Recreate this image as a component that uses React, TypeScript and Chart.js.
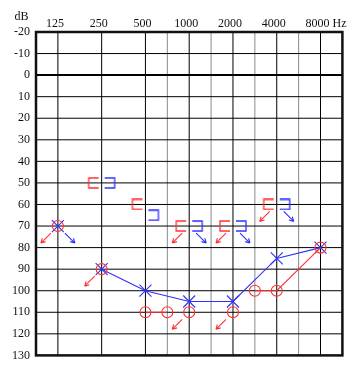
import React, { useEffect, useRef } from "react";
import { Chart, registerables } from "chart.js";

Chart.register(...registerables);

// ---- axis data ----
const freqTickLabels = ["125", "250", "500", "1000", "2000", "4000", "8000"];
const majorFreqs = [125, 250, 500, 1000, 2000, 4000, 8000];
const minorFreqs = [750, 1500, 3000, 6000];
const dbTicks = [-20, -10, 0, 10, 20, 30, 40, 50, 60, 70, 80, 90, 100, 110, 120, 130];
const freqUnit = "Hz";
const levelUnit = "dB";

// ---- right ear air conduction (O) ----
const acRightFreqs = [125, 250, 500, 750, 1000, 2000, 3000, 4000, 8000];
const acRight = [70, 90, 110, 110, 110, 110, 100, 100, 80];
const acRightNR = [true, true, false, false, true, true, false, false, false];

// ---- left ear air conduction (X) ----
const acLeftFreqs = [125, 250, 500, 1000, 2000, 4000, 8000];
const acLeft = [70, 90, 100, 105, 105, 85, 80];
const acLeftNR = [true, false, false, false, false, false, false];

// ---- bone conduction (masked) ----
const bcFreqs = [250, 500, 1000, 2000, 4000];
const bcRight = [50, 60, 70, 70, 60];
const bcRightNR = [false, false, true, true, true];
const bcLeft = [50, 65, 70, 70, 60];
const bcLeftNR = [false, false, true, true, true];

const RED = "#ff3030";
const BLUE = "#3030ff";
const FONT = '"Liberation Serif", "DejaVu Serif", serif';

// audiogram position: octaves above 125 Hz, mid-octaves at .5
const pos = (f: number) => Math.round(Math.log2(f / 125) * 2) / 2;

function bracketImage(side: "left" | "right", color: string) {
  const c = document.createElement("canvas");
  c.width = 32;
  c.height = 12;
  const g = c.getContext("2d")!;
  g.strokeStyle = color;
  g.lineWidth = 1.3;
  const cx = 16;
  const cy = 6;
  g.beginPath();
  if (side === "left") {
    const x0 = cx - 13;
    const x1 = cx - 3;
    g.moveTo(x1, cy - 5);
    g.lineTo(x0, cy - 5);
    g.lineTo(x0, cy + 5);
    g.lineTo(x1, cy + 5);
  } else {
    const x0 = cx + 3;
    const x1 = cx + 13;
    g.moveTo(x0, cy - 5);
    g.lineTo(x1, cy - 5);
    g.lineTo(x1, cy + 5);
    g.lineTo(x0, cy + 5);
  }
  g.stroke();
  return c;
}

const gridPlugin = {
  id: "audioGrid",
  beforeDatasetsDraw(chart: any) {
    const { ctx, chartArea: a, scales } = chart;
    const xs = scales.x;
    const ys = scales.y;
    ctx.save();
    ctx.strokeStyle = "#8a8a8a";
    ctx.lineWidth = 1;
    minorFreqs.forEach((f) => {
      const x = xs.getPixelForValue(pos(f));
      ctx.beginPath();
      ctx.moveTo(x, a.top);
      ctx.lineTo(x, a.bottom);
      ctx.stroke();
    });
    ctx.strokeStyle = "#000";
    majorFreqs.forEach((f) => {
      const x = xs.getPixelForValue(pos(f));
      ctx.beginPath();
      ctx.moveTo(x, a.top);
      ctx.lineTo(x, a.bottom);
      ctx.stroke();
    });
    dbTicks.forEach((v) => {
      const y = ys.getPixelForValue(v);
      ctx.beginPath();
      ctx.lineWidth = v === 0 ? 2 : 1;
      ctx.strokeStyle = "#000";
      ctx.moveTo(a.left, y);
      ctx.lineTo(a.right, y);
      ctx.stroke();
    });
    ctx.lineWidth = 2.5;
    ctx.strokeStyle = "#111";
    ctx.strokeRect(a.left, a.top, a.right - a.left, a.bottom - a.top);
    ctx.restore();
  },
  afterDatasetsDraw(chart: any) {
    const { ctx } = chart;
    ctx.save();
    chart.data.datasets.forEach((ds: any, i: number) => {
      const nr: boolean[] | undefined = ds.noResponse;
      if (!nr) return;
      const dir = ds.arrowDir as number;
      const meta = chart.getDatasetMeta(i);
      ctx.strokeStyle = ds.markColor;
      ctx.lineWidth = 1.1;
      meta.data.forEach((el: any, j: number) => {
        if (!nr[j]) return;
        const x0 = el.x + dir * 7;
        const y0 = el.y + 7;
        const x1 = el.x + dir * 17;
        const y1 = el.y + 17;
        ctx.beginPath();
        ctx.moveTo(x0, y0);
        ctx.lineTo(x1, y1);
        const ang = Math.atan2(y1 - y0, x1 - x0);
        const hl = 5;
        for (const s of [-1, 1]) {
          const a2 = ang + Math.PI + s * 0.5;
          ctx.moveTo(x1, y1);
          ctx.lineTo(x1 + hl * Math.cos(a2), y1 + hl * Math.sin(a2));
        }
        ctx.stroke();
      });
    });
    ctx.restore();
  },
  afterDraw(chart: any) {
    const { ctx, scales, chartArea: a } = chart;
    const xs = scales.x;
    const ys = scales.y;
    ctx.save();
    ctx.fillStyle = "#111";
    ctx.font = `12px ${FONT}`;
    ctx.textBaseline = "middle";
    // frequency labels (top)
    freqTickLabels.forEach((lab, i) => {
      const x = xs.getPixelForValue(pos(majorFreqs[i])) - 3;
      ctx.textAlign = "center";
      ctx.fillText(lab, x, 24);
      if (i === freqTickLabels.length - 1) {
        const w = ctx.measureText(lab).width;
        ctx.textAlign = "left";
        ctx.fillText(" " + freqUnit, x + w / 2, 24);
      }
    });
    // level labels (left)
    ctx.textAlign = "right";
    dbTicks.forEach((v) => {
      ctx.fillText(String(v), a.left - 6, ys.getPixelForValue(v));
    });
    ctx.textAlign = "center";
    ctx.fillText(levelUnit, 21.5, 17);
    ctx.restore();
  },
};

export default function App() {
  const ref = useRef<HTMLCanvasElement | null>(null);

  useEffect(() => {
    if (!ref.current) return;
    const redBracket = bracketImage("left", RED);
    const blueBracket = bracketImage("right", BLUE);

    const segColor = (nr: boolean[], color: string) => (c: any) =>
      nr[c.p0DataIndex] || nr[c.p1DataIndex] ? "rgba(0,0,0,0)" : color;

    const chart = new Chart(ref.current, {
      type: "scatter",
      data: {
        datasets: [
          {
            label: "Right AC",
            data: acRightFreqs.map((f, i) => ({ x: pos(f), y: acRight[i] })),
            showLine: true,
            borderColor: RED,
            borderWidth: 1.1,
            segment: { borderColor: segColor(acRightNR, RED) },
            pointStyle: "circle",
            pointRadius: 5.5,
            pointBorderWidth: 1.1,
            pointBorderColor: RED,
            pointBackgroundColor: "rgba(0,0,0,0)",
            noResponse: acRightNR,
            arrowDir: -1,
            markColor: RED,
          } as any,
          {
            label: "Left AC",
            data: acLeftFreqs.map((f, i) => ({ x: pos(f), y: acLeft[i] })),
            showLine: true,
            borderColor: BLUE,
            borderWidth: 1.1,
            segment: { borderColor: segColor(acLeftNR, BLUE) },
            pointStyle: "crossRot",
            pointRadius: 8.5,
            pointBorderWidth: 1.1,
            pointBorderColor: BLUE,
            pointBackgroundColor: BLUE,
            noResponse: acLeftNR,
            arrowDir: 1,
            markColor: BLUE,
          } as any,
          {
            label: "Right BC",
            data: bcFreqs.map((f, i) => ({ x: pos(f), y: bcRight[i] })),
            showLine: false,
            pointStyle: redBracket,
            noResponse: bcRightNR,
            arrowDir: -1,
            markColor: RED,
          } as any,
          {
            label: "Left BC",
            data: bcFreqs.map((f, i) => ({ x: pos(f), y: bcLeft[i] })),
            showLine: false,
            pointStyle: blueBracket,
            noResponse: bcLeftNR,
            arrowDir: 1,
            markColor: BLUE,
          } as any,
        ],
      },
      options: {
        animation: false,
        responsive: false,
        devicePixelRatio: 1,
        layout: { padding: { top: 32, right: 8, bottom: 1, left: 36 } },
        plugins: {
          legend: { display: false },
          tooltip: { enabled: false },
          title: { display: false },
        },
        events: [],
        scales: {
          x: {
            type: "linear",
            display: false,
            min: -0.5,
            max: 6.5,
          },
          y: {
            type: "linear",
            display: false,
            reverse: true,
            min: -20,
            max: 130,
          },
        },
      },
      plugins: [gridPlugin],
    });
    return () => chart.destroy();
  }, []);

  return (
    <div style={{ position: "absolute", left: 0, top: 0, width: 352, height: 365, background: "#fff" }}>
      <canvas ref={ref} width={352} height={365} style={{ display: "block" }} />
    </div>
  );
}
